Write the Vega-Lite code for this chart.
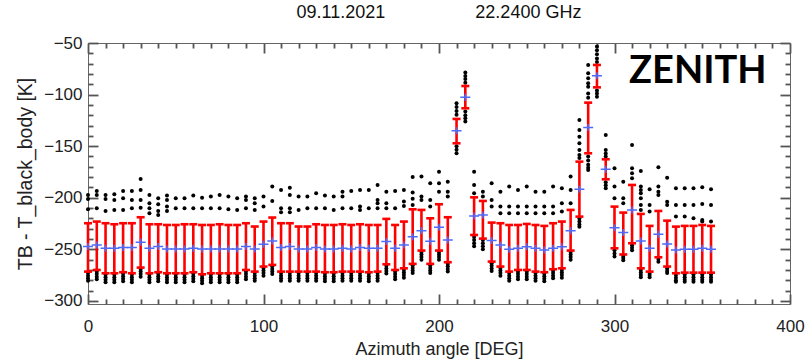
{
  "$schema": "https://vega.github.io/schema/vega-lite/v6.json",
  "width": 702,
  "height": 261,
  "autosize": {"type": "none"},
  "padding": {"left": 88, "top": 43, "right": 15, "bottom": 60},
  "background": "white",
  "config": {
    "view": {"stroke": "#666666", "strokeWidth": 1},
    "font": "Liberation Sans",
    "axis": {"grid": false, "labelFlush": false, "labelOverlap": false}
  },
  "title": {
    "text": "09.11.2021\u00a0\u00a0\u00a0\u00a0\u00a0\u00a0\u00a0\u00a0\u00a0\u00a0\u00a0\u00a0\u00a0\u00a0\u00a0\u00a0\u00a0\u00a022.2400 GHz",
    "font": "Liberation Sans",
    "fontSize": 18,
    "fontWeight": "normal",
    "color": "#111111",
    "anchor": "middle",
    "offset": 12
  },
  "datasets": {
    "stats": [
      {"az":0,"m":-247.3,"lo":-271.6,"hi":-224.7},
      {"az":5,"m":-245.7,"lo":-270.0,"hi":-223.1},
      {"az":10,"m":-249.0,"lo":-273.2,"hi":-224.7},
      {"az":15,"m":-249.0,"lo":-273.2,"hi":-225.7},
      {"az":20,"m":-248.3,"lo":-272.2,"hi":-224.7},
      {"az":25,"m":-248.3,"lo":-273.2,"hi":-224.7},
      {"az":30,"m":-243.1,"lo":-267.7,"hi":-218.9},
      {"az":35,"m":-249.0,"lo":-273.2,"hi":-225.7},
      {"az":40,"m":-247.3,"lo":-272.2,"hi":-225.7},
      {"az":45,"m":-249.6,"lo":-273.2,"hi":-226.4},
      {"az":50,"m":-249.6,"lo":-273.2,"hi":-226.4},
      {"az":55,"m":-249.6,"lo":-273.2,"hi":-225.7},
      {"az":60,"m":-249.0,"lo":-272.2,"hi":-225.7},
      {"az":65,"m":-249.6,"lo":-274.2,"hi":-226.4},
      {"az":70,"m":-249.6,"lo":-273.2,"hi":-226.4},
      {"az":75,"m":-249.6,"lo":-273.2,"hi":-225.7},
      {"az":80,"m":-249.6,"lo":-273.2,"hi":-226.4},
      {"az":85,"m":-249.6,"lo":-273.2,"hi":-226.4},
      {"az":90,"m":-247.3,"lo":-270.0,"hi":-224.7},
      {"az":95,"m":-249.6,"lo":-271.6,"hi":-227.9},
      {"az":100,"m":-245.1,"lo":-266.7,"hi":-223.1},
      {"az":105,"m":-241.9,"lo":-265.1,"hi":-219.2},
      {"az":110,"m":-248.3,"lo":-271.6,"hi":-224.7},
      {"az":115,"m":-247.3,"lo":-271.6,"hi":-224.7},
      {"az":120,"m":-249.6,"lo":-271.6,"hi":-227.9},
      {"az":125,"m":-249.6,"lo":-271.6,"hi":-227.9},
      {"az":130,"m":-248.3,"lo":-271.6,"hi":-225.7},
      {"az":135,"m":-249.6,"lo":-272.2,"hi":-226.4},
      {"az":140,"m":-249.6,"lo":-272.2,"hi":-226.4},
      {"az":145,"m":-249.0,"lo":-271.6,"hi":-225.7},
      {"az":150,"m":-249.6,"lo":-271.6,"hi":-226.4},
      {"az":155,"m":-248.3,"lo":-271.6,"hi":-225.7},
      {"az":160,"m":-249.0,"lo":-272.2,"hi":-226.4},
      {"az":165,"m":-249.0,"lo":-271.6,"hi":-226.4},
      {"az":170,"m":-242.5,"lo":-264.5,"hi":-220.5},
      {"az":175,"m":-249.0,"lo":-270.0,"hi":-226.4},
      {"az":180,"m":-245.7,"lo":-268.4,"hi":-223.1},
      {"az":185,"m":-237.7,"lo":-264.1,"hi":-211.2},
      {"az":190,"m":-231.9,"lo":-251.2,"hi":-211.8},
      {"az":195,"m":-242.2,"lo":-264.1,"hi":-219.9},
      {"az":200,"m":-228.6,"lo":-251.2,"hi":-206.3},
      {"az":205,"m":-240.9,"lo":-262.5,"hi":-218.9},
      {"az":210,"m":-135.0,"lo":-147.2,"hi":-123.6},
      {"az":215,"m":-102.7,"lo":-113.3,"hi":-91.7},
      {"az":220,"m":-217.6,"lo":-236.1,"hi":-199.6},
      {"az":225,"m":-216.7,"lo":-239.6,"hi":-203.1},
      {"az":230,"m":-241.5,"lo":-261.9,"hi":-224.1},
      {"az":235,"m":-245.7,"lo":-266.7,"hi":-224.7},
      {"az":240,"m":-249.9,"lo":-271.6,"hi":-226.4},
      {"az":245,"m":-249.0,"lo":-270.0,"hi":-226.4},
      {"az":250,"m":-247.4,"lo":-270.0,"hi":-225.4},
      {"az":255,"m":-249.0,"lo":-271.6,"hi":-226.4},
      {"az":260,"m":-250.6,"lo":-272.2,"hi":-227.3},
      {"az":265,"m":-249.0,"lo":-269.3,"hi":-224.7},
      {"az":270,"m":-247.4,"lo":-268.4,"hi":-223.1},
      {"az":275,"m":-231.9,"lo":-251.2,"hi":-211.8},
      {"az":280,"m":-191.8,"lo":-218.3,"hi":-165.0},
      {"az":285,"m":-132.0,"lo":-156.9,"hi":-107.8},
      {"az":290,"m":-81.7,"lo":-93.0,"hi":-71.3},
      {"az":295,"m":-172.4,"lo":-182.1,"hi":-162.7},
      {"az":300,"m":-229.0,"lo":-249.0,"hi":-208.6},
      {"az":305,"m":-233.8,"lo":-255.0,"hi":-214.4},
      {"az":310,"m":-211.8,"lo":-244.1,"hi":-187.6},
      {"az":315,"m":-241.9,"lo":-268.4,"hi":-215.7},
      {"az":320,"m":-249.0,"lo":-271.6,"hi":-227.3},
      {"az":325,"m":-235.4,"lo":-257.7,"hi":-212.8},
      {"az":330,"m":-244.8,"lo":-266.7,"hi":-222.2},
      {"az":335,"m":-250.6,"lo":-273.2,"hi":-228.0},
      {"az":340,"m":-249.9,"lo":-272.6,"hi":-227.3},
      {"az":345,"m":-249.9,"lo":-272.6,"hi":-227.3},
      {"az":350,"m":-249.0,"lo":-272.6,"hi":-226.4},
      {"az":355,"m":-249.9,"lo":-272.6,"hi":-227.3}
    ],
    "dots": [
      {"a":0,"t":-197.3},{"a":0,"t":-201.2},{"a":0,"t":-211.2},{"a":0,"t":-273},{"a":0,"t":-275.5},{"a":0,"t":-278},{"a":0,"t":-280.5},
      {"a":5,"t":-193.4},{"a":5,"t":-197.3},{"a":5,"t":-210.2},{"a":5,"t":-271.5},{"a":5,"t":-274},{"a":5,"t":-276.5},{"a":5,"t":-279},
      {"a":10,"t":-197.3},{"a":10,"t":-201.2},{"a":10,"t":-212.8},{"a":10,"t":-274.5},{"a":10,"t":-277},{"a":10,"t":-279.5},{"a":10,"t":-282},
      {"a":15,"t":-196.6},{"a":15,"t":-202.1},{"a":15,"t":-211.8},{"a":15,"t":-274.5},{"a":15,"t":-277},{"a":15,"t":-279.5},{"a":15,"t":-282},
      {"a":20,"t":-193.4},{"a":20,"t":-200.5},{"a":20,"t":-211.8},{"a":20,"t":-273.5},{"a":20,"t":-276},{"a":20,"t":-278.5},{"a":20,"t":-281},
      {"a":25,"t":-193.4},{"a":25,"t":-202.1},{"a":25,"t":-210.2},{"a":25,"t":-274.5},{"a":25,"t":-277},{"a":25,"t":-279.5},{"a":25,"t":-282},
      {"a":30,"t":-181.8},{"a":30,"t":-192.4},{"a":30,"t":-202.1},{"a":30,"t":-209.6},{"a":30,"t":-269},{"a":30,"t":-271.5},{"a":30,"t":-274},{"a":30,"t":-276.5},
      {"a":35,"t":-197.3},{"a":35,"t":-205.4},{"a":35,"t":-210.2},{"a":35,"t":-215.0},{"a":35,"t":-274.5},{"a":35,"t":-277},{"a":35,"t":-279.5},{"a":35,"t":-282},
      {"a":40,"t":-200.5},{"a":40,"t":-206.3},{"a":40,"t":-212.8},{"a":40,"t":-216.7},{"a":40,"t":-273.5},{"a":40,"t":-276},{"a":40,"t":-278.5},{"a":40,"t":-281},
      {"a":45,"t":-197.9},{"a":45,"t":-202.1},{"a":45,"t":-208.6},{"a":45,"t":-212.8},{"a":45,"t":-274.5},{"a":45,"t":-277},{"a":45,"t":-279.5},{"a":45,"t":-282},
      {"a":50,"t":-200.5},{"a":50,"t":-210.2},{"a":50,"t":-274.5},{"a":50,"t":-277},{"a":50,"t":-279.5},{"a":50,"t":-282},
      {"a":55,"t":-200.5},{"a":55,"t":-210.2},{"a":55,"t":-274.5},{"a":55,"t":-277},{"a":55,"t":-279.5},{"a":55,"t":-282},
      {"a":60,"t":-197.9},{"a":60,"t":-210.2},{"a":60,"t":-273.5},{"a":60,"t":-276},{"a":60,"t":-278.5},{"a":60,"t":-281},
      {"a":65,"t":-199.9},{"a":65,"t":-210.2},{"a":65,"t":-275.5},{"a":65,"t":-278},{"a":65,"t":-280.5},{"a":65,"t":-283},
      {"a":70,"t":-198.9},{"a":70,"t":-210.2},{"a":70,"t":-274.5},{"a":70,"t":-277},{"a":70,"t":-279.5},{"a":70,"t":-282},
      {"a":75,"t":-197.3},{"a":75,"t":-210.2},{"a":75,"t":-274.5},{"a":75,"t":-277},{"a":75,"t":-279.5},{"a":75,"t":-282},
      {"a":80,"t":-198.9},{"a":80,"t":-211.2},{"a":80,"t":-274.5},{"a":80,"t":-277},{"a":80,"t":-279.5},{"a":80,"t":-282},
      {"a":85,"t":-200.5},{"a":85,"t":-211.8},{"a":85,"t":-274.5},{"a":85,"t":-277},{"a":85,"t":-279.5},{"a":85,"t":-282},
      {"a":90,"t":-198.9},{"a":90,"t":-202.1},{"a":90,"t":-210.2},{"a":90,"t":-271.5},{"a":90,"t":-274},{"a":90,"t":-276.5},{"a":90,"t":-279},
      {"a":95,"t":-200.5},{"a":95,"t":-205.4},{"a":95,"t":-211.8},{"a":95,"t":-273},{"a":95,"t":-275.5},{"a":95,"t":-278},{"a":95,"t":-280.5},
      {"a":100,"t":-198.9},{"a":100,"t":-208.6},{"a":100,"t":-268},{"a":100,"t":-270.5},{"a":100,"t":-273},{"a":100,"t":-275.5},
      {"a":105,"t":-189.2},{"a":105,"t":-203.1},{"a":105,"t":-266.5},{"a":105,"t":-269},{"a":105,"t":-271.5},{"a":105,"t":-274},
      {"a":110,"t":-192.4},{"a":110,"t":-210.2},{"a":110,"t":-214.1},{"a":110,"t":-273},{"a":110,"t":-275.5},{"a":110,"t":-278},{"a":110,"t":-280.5},
      {"a":115,"t":-190.2},{"a":115,"t":-197.3},{"a":115,"t":-210.2},{"a":115,"t":-214.1},{"a":115,"t":-273},{"a":115,"t":-275.5},{"a":115,"t":-278},{"a":115,"t":-280.5},
      {"a":120,"t":-198.9},{"a":120,"t":-211.8},{"a":120,"t":-273},{"a":120,"t":-275.5},{"a":120,"t":-278},{"a":120,"t":-280.5},
      {"a":125,"t":-198.9},{"a":125,"t":-210.2},{"a":125,"t":-273},{"a":125,"t":-275.5},{"a":125,"t":-278},{"a":125,"t":-280.5},
      {"a":130,"t":-195.7},{"a":130,"t":-210.2},{"a":130,"t":-273},{"a":130,"t":-275.5},{"a":130,"t":-278},{"a":130,"t":-280.5},
      {"a":135,"t":-197.9},{"a":135,"t":-210.2},{"a":135,"t":-273.5},{"a":135,"t":-276},{"a":135,"t":-278.5},{"a":135,"t":-281},
      {"a":140,"t":-198.9},{"a":140,"t":-211.8},{"a":140,"t":-273.5},{"a":140,"t":-276},{"a":140,"t":-278.5},{"a":140,"t":-281},
      {"a":145,"t":-194.1},{"a":145,"t":-198.9},{"a":145,"t":-210.2},{"a":145,"t":-273},{"a":145,"t":-275.5},{"a":145,"t":-278},{"a":145,"t":-280.5},
      {"a":150,"t":-193.4},{"a":150,"t":-210.2},{"a":150,"t":-273},{"a":150,"t":-275.5},{"a":150,"t":-278},{"a":150,"t":-280.5},
      {"a":155,"t":-192.4},{"a":155,"t":-208.6},{"a":155,"t":-211.8},{"a":155,"t":-273},{"a":155,"t":-275.5},{"a":155,"t":-278},{"a":155,"t":-280.5},
      {"a":160,"t":-192.4},{"a":160,"t":-210.2},{"a":160,"t":-273.5},{"a":160,"t":-276},{"a":160,"t":-278.5},{"a":160,"t":-281},
      {"a":165,"t":-187.6},{"a":165,"t":-202.1},{"a":165,"t":-205.4},{"a":165,"t":-210.2},{"a":165,"t":-273},{"a":165,"t":-275.5},{"a":165,"t":-278},{"a":165,"t":-280.5},
      {"a":170,"t":-194.1},{"a":170,"t":-205.4},{"a":170,"t":-210.2},{"a":170,"t":-266},{"a":170,"t":-268.5},{"a":170,"t":-271},{"a":170,"t":-273.5},
      {"a":175,"t":-193.4},{"a":175,"t":-210.2},{"a":175,"t":-271.5},{"a":175,"t":-274},{"a":175,"t":-276.5},{"a":175,"t":-279},
      {"a":180,"t":-192.4},{"a":180,"t":-203.7},{"a":180,"t":-208.0},{"a":180,"t":-270},{"a":180,"t":-272.5},{"a":180,"t":-275},{"a":180,"t":-277.5},
      {"a":185,"t":-180.0},{"a":185,"t":-195.0},{"a":185,"t":-201.0},{"a":185,"t":-207.0},{"a":185,"t":-265.5},{"a":185,"t":-268},{"a":185,"t":-270.5},{"a":185,"t":-273},
      {"a":190,"t":-179.5},{"a":190,"t":-198.9},{"a":190,"t":-202.1},{"a":190,"t":-252.5},{"a":190,"t":-255},{"a":190,"t":-257.5},{"a":190,"t":-260},
      {"a":195,"t":-186.0},{"a":195,"t":-202.1},{"a":195,"t":-208.6},{"a":195,"t":-265.5},{"a":195,"t":-268},{"a":195,"t":-270.5},{"a":195,"t":-273},
      {"a":200,"t":-174.7},{"a":200,"t":-186.0},{"a":200,"t":-194.1},{"a":200,"t":-252.5},{"a":200,"t":-255},{"a":200,"t":-257.5},{"a":200,"t":-260},
      {"a":205,"t":-184.4},{"a":205,"t":-194.1},{"a":205,"t":-198.9},{"a":205,"t":-264},{"a":205,"t":-266.5},{"a":205,"t":-269},{"a":205,"t":-271.5},
      {"a":210,"t":-108.5},{"a":210,"t":-112.0},{"a":210,"t":-116.0},{"a":210,"t":-119.5},{"a":210,"t":-150.0},{"a":210,"t":-153.5},{"a":210,"t":-156.9},
      {"a":215,"t":-78.7},{"a":215,"t":-82.0},{"a":215,"t":-85.0},{"a":215,"t":-88.5},{"a":215,"t":-116.5},{"a":215,"t":-120.0},{"a":215,"t":-123.0},{"a":215,"t":-126.2},
      {"a":220,"t":-174.7},{"a":220,"t":-187.6},{"a":220,"t":-195.7},{"a":220,"t":-238},{"a":220,"t":-241},{"a":220,"t":-244},{"a":220,"t":-247},
      {"a":225,"t":-194.1},{"a":225,"t":-198.9},{"a":225,"t":-241},{"a":225,"t":-244},{"a":225,"t":-247},{"a":225,"t":-250},
      {"a":230,"t":-186.0},{"a":230,"t":-202.1},{"a":230,"t":-208.6},{"a":230,"t":-263.5},{"a":230,"t":-266},{"a":230,"t":-268.5},{"a":230,"t":-271},
      {"a":235,"t":-194.1},{"a":235,"t":-208.6},{"a":235,"t":-215.0},{"a":235,"t":-268},{"a":235,"t":-270.5},{"a":235,"t":-273},{"a":235,"t":-275.5},
      {"a":240,"t":-189.2},{"a":240,"t":-208.6},{"a":240,"t":-215.0},{"a":240,"t":-273},{"a":240,"t":-275.5},{"a":240,"t":-278},{"a":240,"t":-280.5},
      {"a":245,"t":-192.4},{"a":245,"t":-208.6},{"a":245,"t":-215.0},{"a":245,"t":-271.5},{"a":245,"t":-274},{"a":245,"t":-276.5},{"a":245,"t":-279},
      {"a":250,"t":-189.2},{"a":250,"t":-208.6},{"a":250,"t":-215.0},{"a":250,"t":-271.5},{"a":250,"t":-274},{"a":250,"t":-276.5},{"a":250,"t":-279},
      {"a":255,"t":-194.1},{"a":255,"t":-208.6},{"a":255,"t":-215.0},{"a":255,"t":-273},{"a":255,"t":-275.5},{"a":255,"t":-278},{"a":255,"t":-280.5},
      {"a":260,"t":-194.1},{"a":260,"t":-208.6},{"a":260,"t":-215.0},{"a":260,"t":-273.5},{"a":260,"t":-276},{"a":260,"t":-278.5},{"a":260,"t":-281},
      {"a":265,"t":-189.2},{"a":265,"t":-208.6},{"a":265,"t":-215.0},{"a":265,"t":-270.5},{"a":265,"t":-273},{"a":265,"t":-275.5},{"a":265,"t":-278},
      {"a":270,"t":-190.8},{"a":270,"t":-205.4},{"a":270,"t":-213.4},{"a":270,"t":-270},{"a":270,"t":-272.5},{"a":270,"t":-275},{"a":270,"t":-277.5},
      {"a":275,"t":-179.5},{"a":275,"t":-192.4},{"a":275,"t":-205.4},{"a":275,"t":-252.5},{"a":275,"t":-255},{"a":275,"t":-257.5},{"a":275,"t":-260},
      {"a":280,"t":-124.6},{"a":280,"t":-134.3},{"a":280,"t":-140.8},{"a":280,"t":-147.2},{"a":280,"t":-153.7},{"a":280,"t":-158.5},{"a":280,"t":-161.5},{"a":280,"t":-220},{"a":280,"t":-223},{"a":280,"t":-226},{"a":280,"t":-228},
      {"a":285,"t":-71.3},{"a":285,"t":-79.4},{"a":285,"t":-84.2},{"a":285,"t":-89.1},{"a":285,"t":-92.3},{"a":285,"t":-99},{"a":285,"t":-103},{"a":285,"t":-160},{"a":285,"t":-164},{"a":285,"t":-168},{"a":285,"t":-171},{"a":285,"t":-173.1},
      {"a":290,"t":-53.5},{"a":290,"t":-57.0},{"a":290,"t":-61.0},{"a":290,"t":-65.0},{"a":290,"t":-68.5},{"a":290,"t":-96},{"a":290,"t":-99},{"a":290,"t":-102},
      {"a":295,"t":-139.1},{"a":295,"t":-153.7},{"a":295,"t":-157.0},{"a":295,"t":-160.0},{"a":295,"t":-185},{"a":295,"t":-188},{"a":295,"t":-190.8},
      {"a":300,"t":-171.5},{"a":300,"t":-189.2},{"a":300,"t":-200.5},{"a":300,"t":-251},{"a":300,"t":-254},{"a":300,"t":-257},
      {"a":305,"t":-184.4},{"a":305,"t":-200.5},{"a":305,"t":-205.4},{"a":305,"t":-256.5},{"a":305,"t":-258.5},{"a":305,"t":-260.5},
      {"a":310,"t":-148.8},{"a":310,"t":-171.5},{"a":310,"t":-176.3},{"a":310,"t":-181.1},{"a":310,"t":-246},{"a":310,"t":-248.5},{"a":310,"t":-251},
      {"a":315,"t":-174.0},{"a":315,"t":-189.2},{"a":315,"t":-192.4},{"a":315,"t":-195.7},{"a":315,"t":-200.5},{"a":315,"t":-207.0},{"a":315,"t":-211.8},{"a":315,"t":-270},{"a":315,"t":-272.5},{"a":315,"t":-275},{"a":315,"t":-277},
      {"a":320,"t":-191.8},{"a":320,"t":-207.0},{"a":320,"t":-213.4},{"a":320,"t":-273},{"a":320,"t":-275},{"a":320,"t":-277},
      {"a":325,"t":-170.5},{"a":325,"t":-189.2},{"a":325,"t":-194.1},{"a":325,"t":-197.3},{"a":325,"t":-259.5},{"a":325,"t":-262},
      {"a":330,"t":-180.5},{"a":330,"t":-203.8},{"a":330,"t":-207.0},{"a":330,"t":-268.5},{"a":330,"t":-271},{"a":330,"t":-273},
      {"a":335,"t":-190.8},{"a":335,"t":-207.0},{"a":335,"t":-218.3},{"a":335,"t":-275},{"a":335,"t":-277.5},{"a":335,"t":-280},{"a":335,"t":-281.5},
      {"a":340,"t":-190.8},{"a":340,"t":-207.0},{"a":340,"t":-218.3},{"a":340,"t":-274.5},{"a":340,"t":-277},{"a":340,"t":-279.5},{"a":340,"t":-281.5},
      {"a":345,"t":-190.8},{"a":345,"t":-207.0},{"a":345,"t":-219.9},{"a":345,"t":-274.5},{"a":345,"t":-277},{"a":345,"t":-279.5},{"a":345,"t":-281.5},
      {"a":350,"t":-189.9},{"a":350,"t":-206.0},{"a":350,"t":-221.5},{"a":350,"t":-223.1},{"a":350,"t":-274.5},{"a":350,"t":-277},{"a":350,"t":-279.5},{"a":350,"t":-281.5},
      {"a":355,"t":-191.8},{"a":355,"t":-207.0},{"a":355,"t":-223.1},{"a":355,"t":-274.5},{"a":355,"t":-277},{"a":355,"t":-279.5},{"a":355,"t":-281.5}
    ]
  },
  "layer": [
    {
      "data": {"name": "dots"},
      "mark": {"type": "point", "shape": "circle", "filled": true, "size": 16, "color": "#000000", "opacity": 1},
      "encoding": {
        "x": {"field": "a", "type": "quantitative", "scale": {"domain": [0, 400], "nice": false, "zero": false},
          "axis": {"orient": "bottom", "values": [0, 100, 200, 300, 400], "domain": false, "ticks": false,
            "labelFontSize": 17, "labelColor": "#222222", "labelPadding": 14,
            "title": "Azimuth angle [DEG]", "titleFontSize": 18, "titleFontWeight": "normal", "titleColor": "#222222", "titlePadding": 6}},
        "y": {"field": "t", "type": "quantitative", "scale": {"domain": [-303, -50], "nice": false, "zero": false},
          "axis": {"orient": "left", "values": [-300, -250, -200, -150, -100, -50], "domain": false, "ticks": false,
            "labelFontSize": 17, "labelColor": "#222222", "labelPadding": 6,
            "title": "TB - T_black_body [K]", "titleFontSize": 19.5, "titleFontWeight": "normal", "titleColor": "#222222", "titlePadding": 8}}
      }
    },
    {
      "data": {"name": "stats"},
      "mark": {"type": "rule", "color": "#ff0000", "strokeWidth": 2.6},
      "encoding": {
        "x": {"field": "az", "type": "quantitative", "scale": {"domain": [0, 400], "nice": false, "zero": false},
          "axis": {"orient": "bottom", "values": [0, 100, 200, 300, 400], "domain": false, "ticks": true, "tickColor": "#555555", "tickWidth": 1.8, "tickSize": -10, "labels": false, "title": null}},
        "y": {"field": "lo", "type": "quantitative", "scale": {"domain": [-303, -50], "nice": false, "zero": false},
          "axis": {"orient": "left", "values": [-300, -250, -200, -150, -100, -50], "domain": false, "ticks": true, "tickColor": "#555555", "tickWidth": 1.8, "tickSize": -10, "labels": false, "title": null}},
        "y2": {"field": "hi"}
      }
    },
    {
      "data": {"name": "stats"},
      "mark": {"type": "tick", "orient": "horizontal", "color": "#ff0000", "size": 8, "thickness": 2.6, "opacity": 1},
      "encoding": {
        "x": {"field": "az", "type": "quantitative", "scale": {"domain": [0, 400], "nice": false, "zero": false},
          "axis": {"orient": "bottom", "values": [10,20,30,40,50,60,70,80,90,110,120,130,140,150,160,170,180,190,210,220,230,240,250,260,270,280,290,310,320,330,340,350,360,370,380,390], "domain": false, "ticks": true, "tickColor": "#555555", "tickWidth": 1.8, "tickSize": -5, "labels": false, "title": null}},
        "y": {"field": "hi", "type": "quantitative", "scale": {"domain": [-303, -50], "nice": false, "zero": false},
          "axis": {"orient": "left", "values": [-290,-280,-270,-260,-240,-230,-220,-210,-190,-180,-170,-160,-140,-130,-120,-110,-90,-80,-70,-60], "domain": false, "ticks": true, "tickColor": "#555555", "tickWidth": 1.8, "tickSize": -5, "labels": false, "title": null}}
      }
    },
    {
      "data": {"name": "stats"},
      "mark": {"type": "tick", "orient": "horizontal", "color": "#ff0000", "size": 8, "thickness": 2.6, "opacity": 1},
      "encoding": {
        "x": {"field": "az", "type": "quantitative", "scale": {"domain": [0, 400], "nice": false, "zero": false},
          "axis": {"orient": "top", "values": [0, 100, 200, 300, 400], "domain": false, "ticks": true, "tickColor": "#555555", "tickWidth": 1.8, "tickSize": -10, "labels": false, "title": null}},
        "y": {"field": "lo", "type": "quantitative", "scale": {"domain": [-303, -50], "nice": false, "zero": false},
          "axis": {"orient": "right", "values": [-300, -250, -200, -150, -100, -50], "domain": false, "ticks": true, "tickColor": "#555555", "tickWidth": 1.8, "tickSize": -10, "labels": false, "title": null}}
      }
    },
    {
      "data": {"name": "stats"},
      "mark": {"type": "point", "shape": "M-1,0L1,0M0,-0.7L0,0.7", "size": 100, "filled": false, "color": "#4a6cff", "strokeWidth": 1.5, "opacity": 1},
      "encoding": {
        "x": {"field": "az", "type": "quantitative", "scale": {"domain": [0, 400], "nice": false, "zero": false},
          "axis": {"orient": "top", "values": [10,20,30,40,50,60,70,80,90,110,120,130,140,150,160,170,180,190,210,220,230,240,250,260,270,280,290,310,320,330,340,350,360,370,380,390], "domain": false, "ticks": true, "tickColor": "#555555", "tickWidth": 1.8, "tickSize": -5, "labels": false, "title": null}},
        "y": {"field": "m", "type": "quantitative", "scale": {"domain": [-303, -50], "nice": false, "zero": false},
          "axis": {"orient": "right", "values": [-290,-280,-270,-260,-240,-230,-220,-210,-190,-180,-170,-160,-140,-130,-120,-110,-90,-80,-70,-60], "domain": false, "ticks": true, "tickColor": "#555555", "tickWidth": 1.8, "tickSize": -5, "labels": false, "title": null}}
      }
    },
    {
      "data": {"values": [{"label": "ZENITH"}]},
      "mark": {"type": "text", "font": "Lato", "fontSize": 38, "fontWeight": "bold", "color": "#000000", "align": "center", "baseline": "middle"},
      "encoding": {
        "text": {"field": "label"},
        "x": {"datum": 347.5, "type": "quantitative", "axis": null},
        "y": {"datum": -78, "type": "quantitative", "axis": null}
      }
    }
  ],
  "resolve": {"axis": {"x": "independent", "y": "independent"}}
}
